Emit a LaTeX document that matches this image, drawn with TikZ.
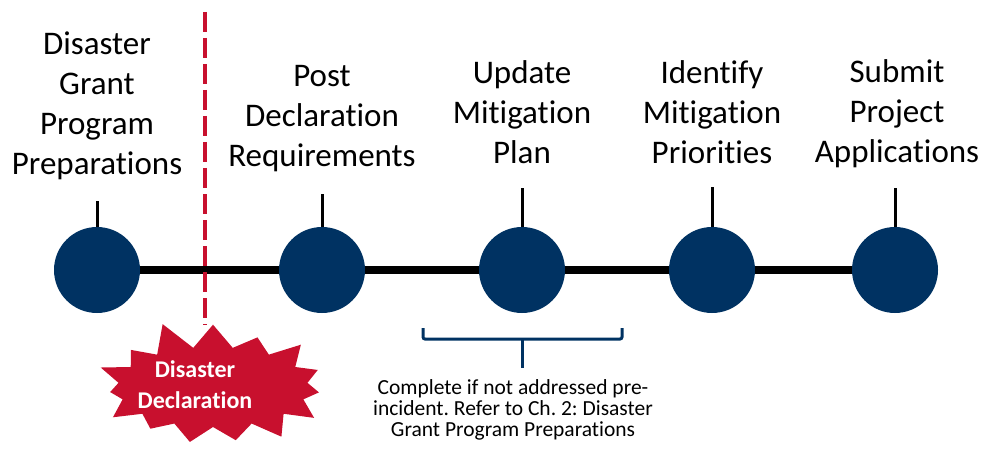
\documentclass[tikz,border=0pt]{standalone}
\usepackage{fontspec}
\setmainfont{Carlito}[Ligatures={NoCommon}]
\usetikzlibrary{shapes.symbols}
\definecolor{navy}{RGB}{0,50,98}
\definecolor{declred}{RGB}{200,16,46}
\frenchspacing
\begin{document}
\begin{tikzpicture}[x=1pt,y=-1pt,
  stop/.style={circle,fill=navy,minimum size=86pt,inner sep=0pt},
  stoplabel/.style={align=center,anchor=south,inner sep=0pt,text depth=0pt,font=\fontsize{33}{40}\selectfont},
  tick/.style={line width=3pt},
  timeline/.style={line width=8pt},
  declline/.style={declred,line width=4.5pt,dash pattern=on 20pt off 6pt},
  burst/.style={starburst,fill=declred,starburst points=15,starburst point height=30pt,
    random starburst=11,minimum width=250pt,minimum height=140pt,inner sep=0pt},
  bursttext/.style={text=white,align=center,inner sep=0pt,font=\bfseries\fontsize{24}{31}\selectfont},
  bracket/.style={navy,line width=3pt,rounded corners=2pt},
  notetext/.style={align=center,anchor=south,inner sep=0pt,text depth=0pt,font=\fontsize{21.5}{21}\selectfont}]
\useasboundingbox (0,0) rectangle (984,457);
% stops on the timeline
\node[stop] (c1) at (97,270) {};
\node[stop] (c2) at (322,270) {};
\node[stop] (c3) at (522,270) {};
\node[stop] (c4) at (712,270) {};
\node[stop] (c5) at (895,270) {};
\foreach \a/\b in {c1/c2,c2/c3,c3/c4,c4/c5}
  \draw[timeline] (\a) -- (\b);
% labels
\node[stoplabel] (l1) at (97,175) {Disaster\\Grant\\Program\\Preparations};
\node[stoplabel] (l2) at (322,167) {Post\\Declaration\\Requirements};
\node[stoplabel] (l3) at (522,164) {Update\\Mitigation\\Plan};
\node[stoplabel] (l4) at (712,164) {Identify\\Mitigation\\Priorities};
\node[stoplabel] (l5) at (897,163) {Submit\\Project\\Applications};
\coordinate (t1) at (97,201);
\coordinate (t2) at (322,194);
\coordinate (t3) at (522,188);
\coordinate (t4) at (712,187);
\coordinate (t5) at (895,188);
\foreach \i in {1,...,5}
  \draw[tick] (c\i.north) -- (t\i);
% disaster declaration
\node[burst] (decl) at (213,387) {};
\node[bursttext] (decltext) at (195,385) {Disaster\\Declaration};
\coordinate (dtop) at (205,12);
\draw[declline] (dtop) -- (dtop |- decl.north);
% bracket and note
\coordinate (bl) at (423,328);
\coordinate (br) at (622,328);
\coordinate (bm) at (522,339);
\coordinate (bstem) at (522,368);
\node[notetext] (note) at (513,437) {Complete if not addressed pre-\\incident. Refer to Ch. 2: Disaster\\Grant Program Preparations};
\draw[bracket] (bl) |- (bm) -| (br);
\draw[bracket] (bm) -- (bstem);
\end{tikzpicture}
\end{document}
